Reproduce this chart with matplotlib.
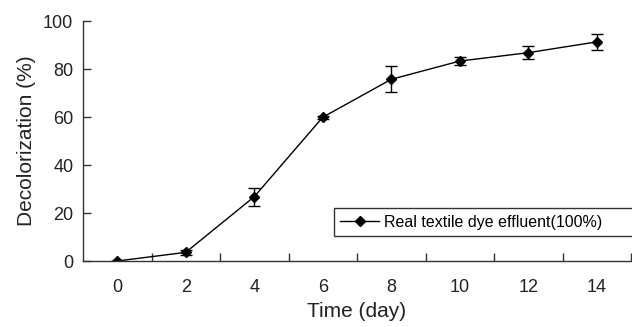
import matplotlib
matplotlib.use("Agg")
import matplotlib.pyplot as plt
from matplotlib.lines import Line2D

plt.rcParams['font.family'] = ['Liberation Sans', 'DejaVu Sans']

# decolorization of real textile dye effluent over time
days = [0, 2, 4, 6, 8, 10, 12, 14]
decolor = [0.0, 3.6, 26.8, 59.9, 75.7, 83.3, 86.8, 91.3]
err = [0.0, 1.0, 3.8, 0.6, 5.4, 1.8, 2.6, 3.3]
series_name = 'Real textile dye effluent(100%)'

fig = plt.figure(figsize=(6.32, 3.27), dpi=100)
ax = fig.add_axes([83 / 632, 66 / 327, 548 / 632, 240 / 327])

ax.errorbar(days, decolor, yerr=err, color='black', lw=1.0,
            marker='D', markersize=5.5, capsize=4, elinewidth=1.0,
            capthick=1.0)

ax.set_xlim(-1, 15)
ax.set_ylim(0, 100)
ax.set_xticks(days)
ax.set_xticks(range(1, 16, 2), minor=True)
ax.set_yticks(range(0, 101, 20))
ax.tick_params(axis='x', which='major', length=0, pad=13, labelsize=13,
               labelcolor='#222222')
ax.tick_params(axis='x', which='minor', direction='in', length=6, width=1,
               color='#333333')
ax.tick_params(axis='y', direction='in', length=6, width=1, pad=7,
               labelsize=13, color='#333333', labelcolor='#222222')

for s in ['top', 'right']:
    ax.spines[s].set_visible(False)
for s in ['left', 'bottom']:
    ax.spines[s].set_linewidth(1.0)
    ax.spines[s].set_color('#333333')

ax.set_xlabel('Time (day)', fontsize=15, labelpad=4, color='#222222')
ax.set_ylabel('Decolorization (%)', fontsize=15, labelpad=5, color='#222222')

# legend box runs off the right edge of the figure
handle = Line2D([], [], color='black', lw=1.0, marker='D', markersize=5.5)
leg = ax.legend([handle], [series_name], loc='lower left', mode='expand',
                bbox_to_anchor=(251 / 548, 0.104, 0.62, 0.12), fontsize=11.5,
                frameon=True, fancybox=False, edgecolor='black',
                borderpad=0.4, borderaxespad=0, handlelength=2.4,
                handletextpad=0.3)
leg.get_frame().set_linewidth(1.0)

fig.savefig('out.png', dpi=100)
